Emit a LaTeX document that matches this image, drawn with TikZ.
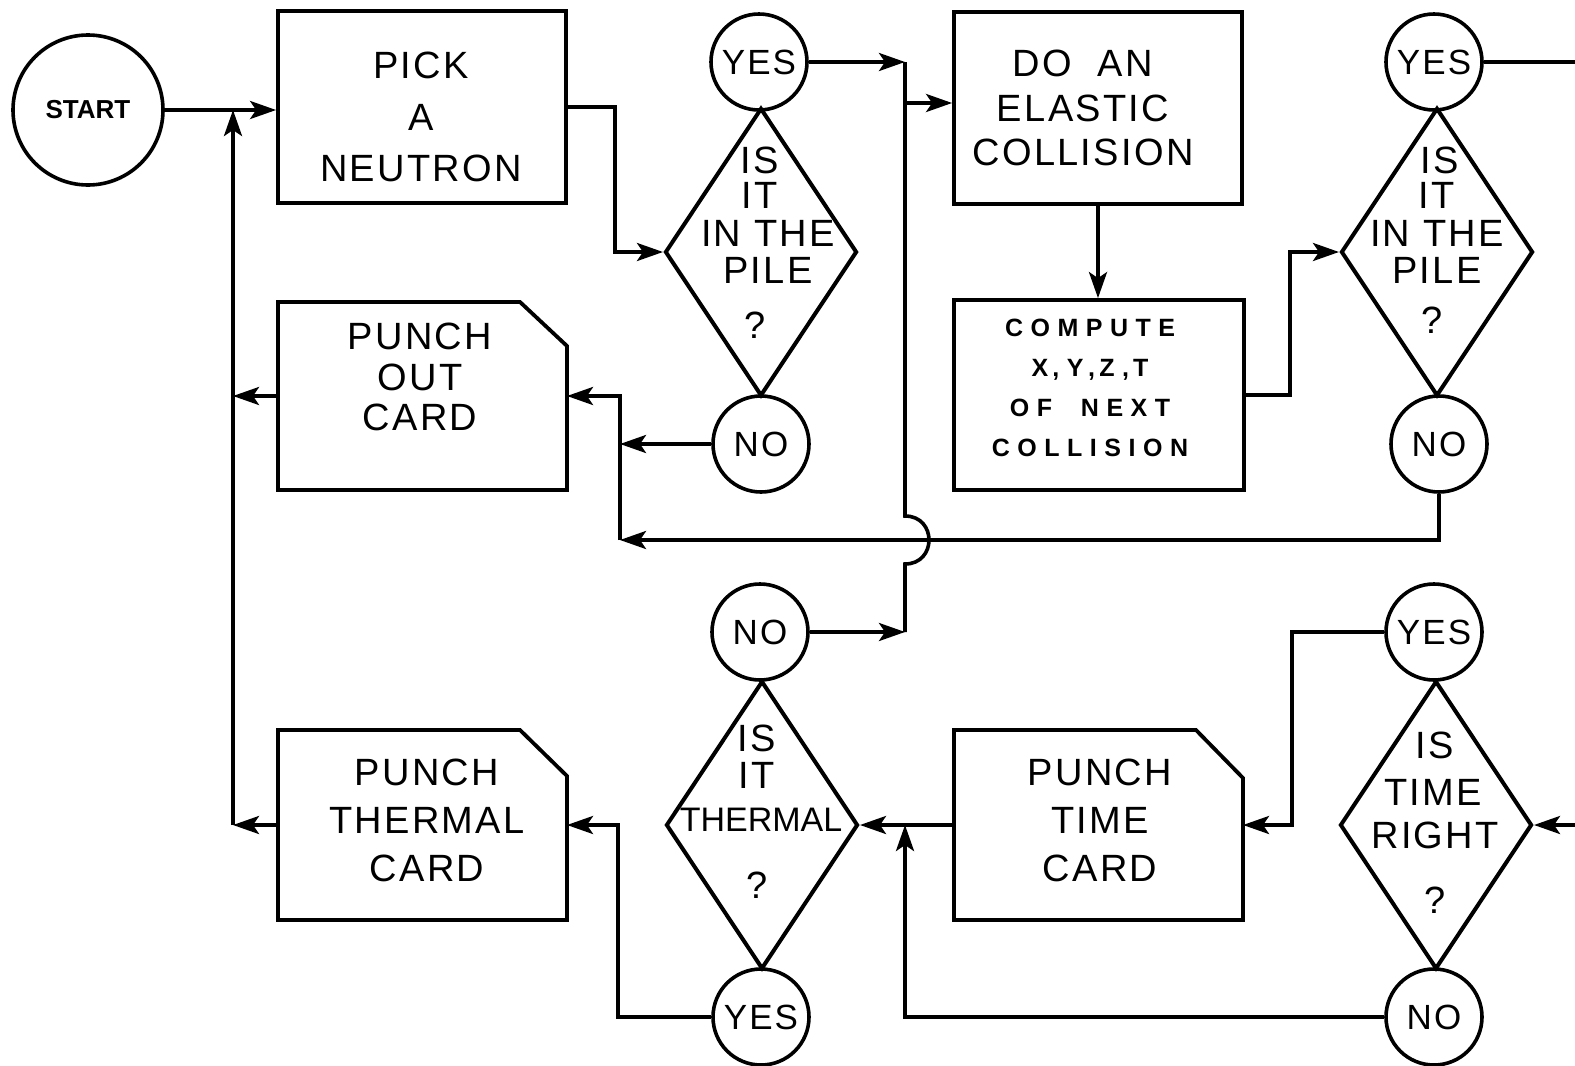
\documentclass[tikz,border=0pt]{standalone}
\usepackage{fontspec}
\setmainfont{Liberation Sans}
\newfontfamily\lettr[LetterSpace=6]{Liberation Sans}
\newfontfamily\lettrw[LetterSpace=30]{Liberation Sans}
\usetikzlibrary{shapes.geometric,arrows.meta}
\tikzset{
  ln/.style={line width=3.6pt, line join=miter},
  arr/.style={ln, -{Stealth[length=26pt,width=18pt,inset=6pt]}},
  boxnode/.style={draw, line width=3.8pt, minimum width=288pt, minimum height=192pt, inner sep=0pt},
  cardnode/.style={minimum width=289pt, minimum height=190pt, inner sep=0pt, outer sep=0pt},
  cardline/.style={line width=3.8pt, line join=miter},
  circnode/.style={circle, draw, line width=3.6pt, minimum size=96pt, inner sep=0pt, font=\lettr\fontsize{35}{40}\selectfont},
  dia/.style={diamond, draw, line width=4pt, minimum width=192pt, minimum height=288pt, inner sep=0pt},
  bigtext/.style={inner sep=0pt, align=center, font=\lettr\fontsize{38}{#1}\selectfont},
  bigtext/.default=48,
  smalltext/.style={inner sep=0pt, align=center, font=\lettrw\bfseries\fontsize{25}{40}\selectfont},
}
\begin{document}
\begin{tikzpicture}[x=1pt,y=-1pt]
\useasboundingbox (0,0) rectangle (1575,1066);
\fill[white] (0,0) rectangle (1575,1066);

% ---------- shapes ----------
\node[circle, draw, line width=3.6pt, minimum size=150pt, inner sep=0pt,
      font=\bfseries\fontsize{26}{30}\selectfont] (start) at (88,110) {START};

\node[boxnode] (pick) at (422,107) {};
\node[bigtext=51.5] (tpick) at (421,117) {PICK\\A\\NEUTRON};

\node[boxnode] (do) at (1098,108) {};
\node[bigtext=44.5] (tdo) at (1083,108) {DO\ \ AN\\ELASTIC\\COLLISION};

\node[boxnode, minimum width=290pt, minimum height=190pt] (comp) at (1099,395) {};
\node[smalltext] (tcomp) at (1090,388) {COMPUTE\\X\,,Y,\,Z,\,T\\OF\ \ NEXT\\COLLISION};

% punch out card
\node[cardnode, minimum height=188pt] (pout) at (422.5,396) {};
\draw[cardline] (pout.south west) -- (pout.north west) -- ([xshift=-47pt]pout.north east)
   -- ([yshift=-44pt]pout.north east) -- (pout.south east) -- cycle;
\node[bigtext=40.5] (tpout) at (420,377) {PUNCH\\OUT\\CARD};

% punch thermal card
\node[cardnode] (ptherm) at (422.5,825) {};
\draw[cardline] (ptherm.south west) -- (ptherm.north west) -- ([xshift=-47pt]ptherm.north east)
   -- ([yshift=-46pt]ptherm.north east) -- (ptherm.south east) -- cycle;
\node[bigtext=48] (tptherm) at (427,820) {PUNCH\\THERMAL\\CARD};

% punch time card
\node[cardnode] (ptime) at (1098.5,825) {};
\draw[cardline] (ptime.south west) -- (ptime.north west) -- ([xshift=-47pt]ptime.north east)
   -- ([yshift=-48pt]ptime.north east) -- (ptime.south east) -- cycle;
\node[bigtext=48] (tptime) at (1100,820) {PUNCH\\TIME\\CARD};

% diamonds
\node[dia] (d1) at (761,252) {};
\node[bigtext] (d1a) at (760,160) {IS};
\node[bigtext] (d1b) at (760,195) {IT};
\node[bigtext] (d1c) at (768,233) {IN THE};
\node[bigtext] (d1d) at (768,270) {PILE};
\node[bigtext] (d1e) at (755,325) {?};

\node[dia] (d2) at (1437,252) {};
\node[bigtext] (d2a) at (1440,160) {IS};
\node[bigtext] (d2b) at (1437,195) {IT};
\node[bigtext] (d2c) at (1437,233) {IN THE};
\node[bigtext] (d2d) at (1437,270) {PILE};
\node[bigtext] (d2e) at (1432,320) {?};

\node[dia] (d3) at (762,825) {};
\node[bigtext] (d3a) at (757,738) {IS};
\node[bigtext] (d3b) at (757,775) {IT};
\node[inner sep=0pt, font=\fontsize{34}{40}\selectfont] (d3c) at (761,820) {THERMAL};
\node[bigtext] (d3e) at (757,885) {?};

\node[dia] (d4) at (1436,825) {};
\node[bigtext] (d4a) at (1435,745) {IS};
\node[bigtext] (d4b) at (1433,792) {TIME};
\node[bigtext] (d4c) at (1435,835) {RIGHT};
\node[bigtext] (d4e) at (1435,900) {?};

% circles
\node[circnode] (yes1) at (759,62) {YES};
\node[circnode] (no1) at (761,444) {NO};
\node[circnode] (yes2) at (1434,62) {YES};
\node[circnode] (no2) at (1439,444) {NO};
\node[circnode] (no3) at (760,632) {NO};
\node[circnode] (yes3) at (761,1017) {YES};
\node[circnode] (yes4) at (1434,632) {YES};
\node[circnode] (no4) at (1434,1017) {NO};

% ---------- coordinates ----------
\coordinate (jl) at (233,110);
\coordinate (jlb) at (233,825);
\coordinate (k1) at (615,252);
\coordinate (vt) at (905,62);
\coordinate (vd) at (905,103);
\coordinate (vj1) at (905,516);
\coordinate (vj2) at (905,564);
\coordinate (vb) at (905,632);
\coordinate (k2) at (1290,252);
\coordinate (re1) at (1575,62);
\coordinate (k4) at (620,540);
\coordinate (k5) at (618,825);
\coordinate (k6) at (905,825);
\coordinate (k7) at (1292,825);
\coordinate (re2) at (1575,825);

% ---------- connectors ----------
\draw[arr] (start.east) -- (start.east -| pick.west);
\draw[arr] (jlb) -- (jl);
\draw[arr] (pick.east) -| (k1) -- (d1.west);
\draw[arr] (yes1.east) -- (vt);
\draw[arr] (no3.east) -- (vb);
\draw[ln] (vt) -- (vj1) .. controls ([xshift=32pt]vj1) and ([xshift=32pt]vj2) .. (vj2) -- (vb);
\draw[arr] (vd) -- (vd -| do.west);
\draw[arr] (do.south) -- (do.south |- comp.north);
\draw[arr] (comp.east) -| (k2) -- (d2.west);
\draw[ln] (yes2.east) -- (re1);
\draw[arr] (no2.south) |- (k4);
\draw[arr] (k4) |- (pout.east);
\draw[arr] (no1.west) -- (no1.west -| k4);
\draw[arr] (pout.west) -- (pout.west -| jl);
\draw[arr] (ptherm.west) -- (jlb);
\draw[arr] (yes3.west) -| (k5) -- (ptherm.east);
\draw[arr] (ptime.west) -- (d3.east);
\draw[arr] (no4.west) -| (k6);
\draw[arr] (yes4.west) -| (k7) -- (ptime.east);
\draw[arr] (re2) -- (d4.east);
\end{tikzpicture}
\end{document}
